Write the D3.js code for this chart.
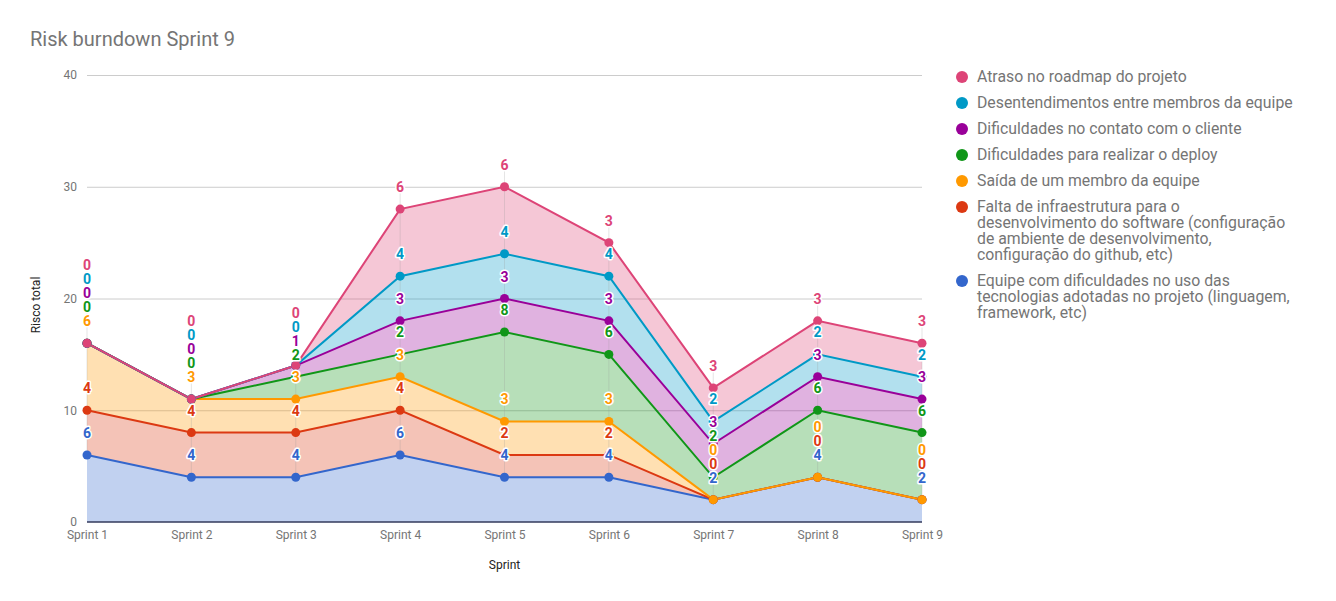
<!DOCTYPE html>
<html><head><meta charset="utf-8">
<script src="https://cdn.jsdelivr.net/npm/d3@7"></script>
<style>body{margin:0;background:#fff;}svg{font-family:Roboto,sans-serif;}</style>
</head><body>
<svg id="c" width="1336" height="601"></svg>
<script>
const sprints = ["Sprint 1","Sprint 2","Sprint 3","Sprint 4","Sprint 5","Sprint 6","Sprint 7","Sprint 8","Sprint 9"];
const seriesNames = [
  "Equipe com dificuldades no uso das tecnologias adotadas no projeto (linguagem, framework, etc)",
  "Falta de infraestrutura para o desenvolvimento do software (configuração de ambiente de desenvolvimento, configuração do github, etc)",
  "Saída de um membro da equipe",
  "Dificuldades para realizar o deploy",
  "Dificuldades no contato com o cliente",
  "Desentendimentos entre membros da equipe",
  "Atraso no roadmap do projeto"
];
const equipe = [6,4,4,6,4,4,2,4,2];
const falta = [4,4,4,4,2,2,0,0,0];
const saida = [6,3,3,3,3,3,0,0,0];
const deploy = [0,0,2,2,8,6,2,6,6];
const cliente = [0,0,1,3,3,3,3,3,3];
const desent = [0,0,0,4,4,4,2,2,2];
const atraso = [0,0,0,6,6,3,3,3,3];
const yTicks = [0,10,20,30,40];
const colors = ["#3366cc","#dc3912","#ff9900","#109618","#990099","#0099c6","#dd4477"];
const legendLines = [
  ["Atraso no roadmap do projeto"],
  ["Desentendimentos entre membros da equipe"],
  ["Dificuldades no contato com o cliente"],
  ["Dificuldades para realizar o deploy"],
  ["Saída de um membro da equipe"],
  ["Falta de infraestrutura para o","desenvolvimento do software (configuração","de ambiente de desenvolvimento,","configuração do github, etc)"],
  ["Equipe com dificuldades no uso das","tecnologias adotadas no projeto (linguagem,","framework, etc)"]
];

const allSeries = [equipe,falta,saida,deploy,cliente,desent,atraso];
const table = sprints.map((s,i)=>{const o={sprint:s}; allSeries.forEach((arr,k)=>o["k"+k]=arr[i]); return o;});
const keys = allSeries.map((_,k)=>"k"+k);
const stacked = d3.stack().keys(keys)(table);

const svg = d3.select("#c");
const pLeft=87, pRight=922, pTop=75, pBottom=522;
const x = d3.scalePoint().domain(sprints).range([pLeft,pRight]);
const y = d3.scaleLinear().domain([0,40]).range([pBottom,pTop]);

svg.append("text").attr("x",30).attr("y",46).attr("font-size",20).attr("fill","#757575").text("Risk burndown Sprint 9");

// grid
const gy = svg.append("g").attr("transform",`translate(${pLeft},0)`)
  .call(d3.axisLeft(y).tickValues(yTicks).tickSize(-(pRight-pLeft)).tickPadding(10));
gy.select(".domain").remove();
gy.selectAll(".tick line").attr("stroke","#cccccc");
gy.selectAll(".tick text").attr("font-size",12).attr("fill","#757575").attr("font-family","Roboto");
gy.selectAll(".tick").filter(d=>d===0).select("line").remove();

// areas
const area = d3.area().x((d,i)=>x(sprints[i])).y0(d=>y(d[0])).y1(d=>y(d[1]));
const line = d3.line().x((d,i)=>x(sprints[i])).y(d=>y(d[1]));
svg.append("g").selectAll("path").data(stacked).join("path")
  .attr("d",area).attr("fill",(d,i)=>colors[i]).attr("fill-opacity",0.3);

// baseline
svg.append("line").attr("x1",pLeft).attr("x2",pRight).attr("y1",y(0)).attr("y2",y(0)).attr("stroke","#333a5c").attr("stroke-width",1.5);

// label positions
const labelY = sprints.map((s,i)=>{
  const arr=[]; let prev=Infinity;
  stacked.forEach((ser,k)=>{ let ly=y(ser[i][1])-22; if(ly>prev-14) ly=prev-14; arr.push(ly); prev=ly;});
  return arr;
});
// leader lines
svg.append("g").selectAll("line").data(sprints).join("line")
  .attr("x1",d=>x(d)).attr("x2",d=>x(d))
  .attr("y1",(d,i)=>labelY[i][6]).attr("y2",(d,i)=>y(stacked[0][i][1]))
  .attr("stroke","#999").attr("stroke-opacity",0.25).attr("stroke-width",1);

// lines & points
const lg = svg.append("g");
stacked.forEach((ser,k)=>{
  lg.append("path").attr("d",line(ser)).attr("fill","none").attr("stroke",colors[k]).attr("stroke-width",2);
});
stacked.forEach((ser,k)=>{
  lg.append("g").selectAll("circle").data(ser).join("circle")
    .attr("cx",(d,i)=>x(sprints[i])).attr("cy",d=>y(d[1])).attr("r",4.5).attr("fill",colors[k]);
});

// labels
const lab = svg.append("g").attr("font-size",14).attr("font-weight","bold").attr("text-anchor","middle");
stacked.forEach((ser,k)=>{
  lab.append("g").selectAll("text").data(ser).join("text")
    .attr("x",(d,i)=>x(sprints[i])).attr("y",(d,i)=>labelY[i][k]+5)
    .attr("fill",colors[k]).attr("stroke","#fff").attr("stroke-width",3).attr("paint-order","stroke")
    .attr("stroke-linejoin","round")
    .text((d,i)=>allSeries[k][i]);
});

// x axis
const gx = svg.append("g").attr("transform",`translate(0,${pBottom})`).call(d3.axisBottom(x).tickSize(0).tickPadding(8));
gx.select(".domain").remove();
gx.selectAll(".tick text").attr("font-size",12).attr("fill","#757575").attr("font-family","Roboto");

svg.append("text").attr("x",(pLeft+pRight)/2).attr("y",569).attr("text-anchor","middle").attr("font-size",12).attr("fill","#222").text("Sprint");
svg.append("text").attr("transform","translate(40,305) rotate(-90)").attr("text-anchor","middle").attr("font-size",12).attr("fill","#222").text("Risco total");

// legend
const legendColors = colors.slice().reverse();
const leg = svg.append("g");
let legY = 77;
legendLines.forEach((lines,i)=>{
  leg.append("circle").attr("cx",962).attr("cy",legY).attr("r",6).attr("fill",legendColors[i]);
  const t = leg.append("text").attr("x",977).attr("y",legY+5).attr("font-size",15.8).attr("fill","#757575");
  lines.forEach((l,j)=>t.append("tspan").attr("x",977).attr("dy",j===0?0:16).text(l));
  legY += 16*(lines.length-1)+26;
});
</script>
</body></html>
